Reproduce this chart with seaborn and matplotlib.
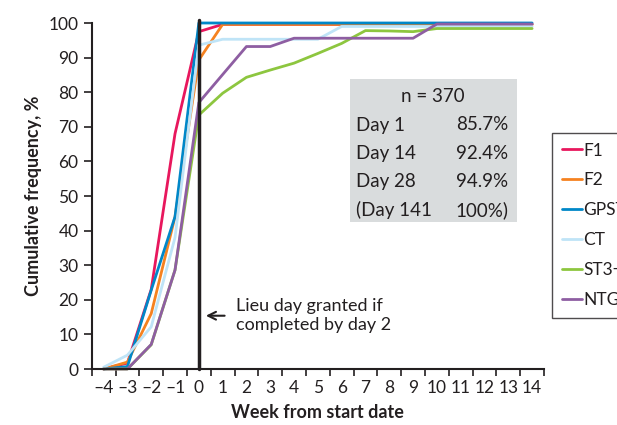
import numpy as np
import pandas as pd
import matplotlib.pyplot as plt
import seaborn as sns

# Data
weeks = list(range(-4, 15))
week_labels = [str(w).replace("-", "\u2013") for w in weeks]

f1 = [0, 1.7, 23, 68, 97.5, 99.6, 99.6, 99.6, 99.6, 99.6, 99.6, 99.6, 99.6, 99.6, 99.6, 99.6, 99.6, 99.6, 99.6]
f2 = [0, 2, 16, 44, 89.3, 99.6, 99.6, 99.6, 99.6, 99.6, 99.6, 99.6, 99.6, 99.6, 99.6, 99.6, 99.6, 99.6, 99.6]
gpst = [0, 0.7, 22.8, 44, 100, 100, 100, 100, 100, 100, 100, 100, 100, 100, 100, 100, 100, 100, 100]
ct = [0.5, 4, 12.2, 38, 93.6, 95.3, 95.3, 95.3, 95.3, 95.3, 99, 99, 99, 99, 99, 99, 99, 99, 99]
st3 = [0, 0, 7, 28.6, 73.4, 79.7, 84.3, 86.4, 88.4, 91.2, 94.1, 97.8, 97.7, 97.5, 98.4, 98.4, 98.4, 98.4, 98.4]
ntg = [0, 0, 7.1, 28.6, 77, 85.1, 93.2, 93.2, 95.6, 95.6, 95.6, 95.6, 95.6, 95.6, 99.7, 99.7, 99.7, 99.7, 99.7]

series_names = ["F1", "F2", "GPST", "CT", "ST3+", "NTG"]
series_values = [f1, f2, gpst, ct, st3, ntg]
colors = ["#e8175d", "#f58220", "#0087c8", "#bfe4f7", "#8dc63f", "#8e5ea2"]

box_rows = [("Day 1", "85.7%"), ("Day 14", "92.4%"), ("Day 28", "94.9%"), ("(Day 141", "100%)")]

# long form table for seaborn
rows = []
for name, vals in zip(series_names, series_values):
    for w, v in zip(weeks, vals):
        rows.append((name, w, v))
df = pd.DataFrame(rows, columns=["series", "week", "value"])

sns.set_style("ticks")
plt.rcParams['font.family'] = ['Lato', 'DejaVu Sans']

W, H = 617, 425
fig = plt.figure(figsize=(W / 100, H / 100), dpi=100)
ax = fig.add_axes([91.7 / W, 1 - 369 / H, (544 - 91.7) / W, (369 - 23) / H])

sns.lineplot(data=df, x="week", y="value", hue="series", hue_order=series_names,
             palette=colors, linewidth=2, ax=ax, legend=False, clip_on=False)

ax.axvline(0, ymin=0, ymax=1.01, color="#231f20", linewidth=2.5, clip_on=False, zorder=5)

ax.set_xlim(-4.5, 14.5)
ax.set_ylim(0, 100)
ax.set_xticks(weeks)
ax.set_xticklabels(week_labels)
ax.set_xticks(np.arange(-4.5, 15, 1), minor=True)
ax.tick_params(axis="x", which="major", length=0, labelsize=12.5, pad=8, colors="#231f20")
ax.tick_params(axis="x", which="minor", length=5, width=1.2, color="#231f20")
ax.set_yticks(range(0, 101, 10))
ax.tick_params(axis="y", length=6, width=1.2, labelsize=12.5, color="#231f20", labelcolor="#231f20")
for s in ["left", "bottom"]:
    ax.spines[s].set_linewidth(1.5)
    ax.spines[s].set_color("#231f20")
sns.despine(ax=ax)

ax.set_xlabel("Week from start date", fontsize=13, fontweight="bold", color="#231f20", labelpad=6)
ax.set_ylabel("Cumulative frequency, %", fontsize=13, fontweight="bold", color="#231f20", labelpad=5)

# annotation arrow and text
ax.annotate("", xy=(0.18, 15.4), xytext=(1.2, 15.4),
            arrowprops=dict(arrowstyle="->", lw=1.5, color="#231f20", mutation_scale=14))
ax.text(1.55, 15.4, "Lieu day granted if\ncompleted by day 2", fontsize=13,
        va="center", ha="left", color="#231f20", linespacing=1.2)

# grey summary box
def fx(px):
    return px / W

def fy(py):
    return 1 - py / H

fig.patches.append(plt.Rectangle((fx(350), fy(222)), fx(517) - fx(350), (222 - 79) / H,
                                 transform=fig.transFigure, facecolor="#d9dcdd",
                                 edgecolor="none", zorder=3))
fig.text(fx(433), fy(96), "n = 370", fontsize=13.5, ha="center", va="center", color="#231f20", zorder=4)
for i, (left, right) in enumerate(box_rows):
    yy = fy(125 + i * 28.3)
    fig.text(fx(356), yy, left, fontsize=13.5, ha="left", va="center", color="#231f20", zorder=4)
    fig.text(fx(508), yy, right, fontsize=13.5, ha="right", va="center", color="#231f20", zorder=4)

# legend, partly off the figure edge as in the reference
handles = [plt.Line2D([], [], color=c, linewidth=2) for c in colors]
leg = fig.legend(handles, series_names, loc="upper left", bbox_to_anchor=(fx(552), fy(133)),
                 fontsize=12.5, frameon=True, fancybox=False, handlelength=1.2,
                 handletextpad=0.05, labelspacing=0.8, borderpad=0.55, borderaxespad=0)
leg.get_frame().set_edgecolor("#231f20")
leg.get_frame().set_linewidth(1)
for t in leg.get_texts():
    t.set_color("#231f20")

fig.savefig("out.png", dpi=100)
